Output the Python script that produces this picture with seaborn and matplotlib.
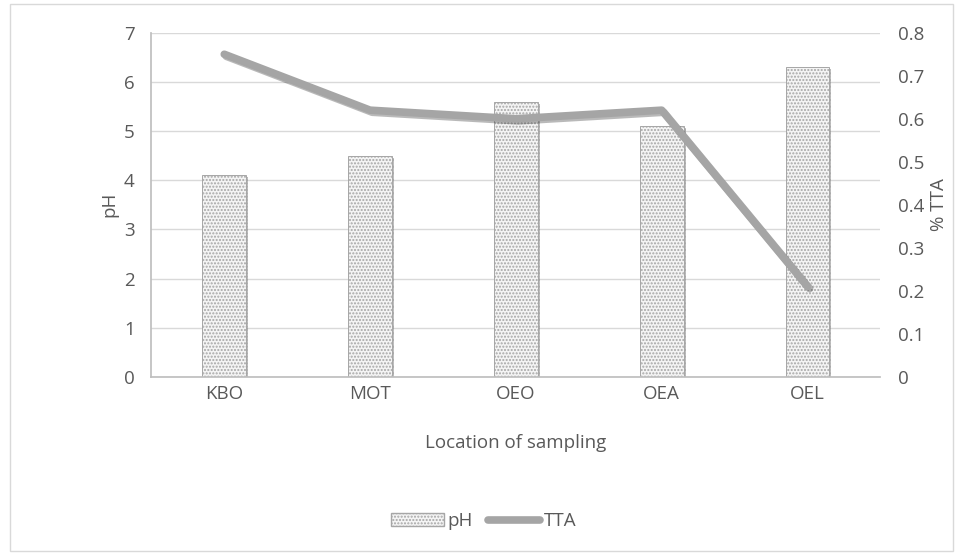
import numpy as np
import pandas as pd
import seaborn as sns
import matplotlib.pyplot as plt
import matplotlib.patheffects as pe
from matplotlib.patches import Patch
from matplotlib.lines import Line2D

locations = ['KBO', 'MOT', 'OEO', 'OEA', 'OEL']
ph = [4.1, 4.5, 5.6, 5.1, 6.3]
tta = [0.75, 0.62, 0.60, 0.62, 0.21]

df = pd.DataFrame({'location': locations, 'pH': ph, 'TTA': tta})

sns.set_theme(style='white')
plt.rcParams['font.family'] = ['Open Sans', 'DejaVu Sans']
txt = '#595959'
grid = '#d9d9d9'
fs = 13.5

fig = plt.figure(figsize=(9.58, 5.55), dpi=100)
ax = fig.add_axes([0.158, 0.321, 0.761, 0.62])

sns.barplot(data=df, x='location', y='pH', ax=ax, width=0.3,
            color='#f4f4f4', edgecolor='#a6a6a6', linewidth=0.7,
            hatch='.....', zorder=2)
for bar in ax.patches:
    bar.set_path_effects([pe.SimplePatchShadow(offset=(1.5, -1.5), alpha=0.35), pe.Normal()])

ax.set_ylim(0, 7)
ax.set_xlim(-0.5, 4.5)
ax.set_yticks(range(0, 8))
ax.yaxis.grid(True, color=grid, linewidth=1, zorder=0)
ax.set_axisbelow(True)
for s in ['top', 'right']:
    ax.spines[s].set_visible(False)
ax.spines['left'].set_color('#bfbfbf')
ax.spines['bottom'].set_color('#bfbfbf')
ax.tick_params(axis='y', length=0, labelsize=fs, colors=txt, pad=12)
ax.tick_params(axis='x', length=0, labelsize=fs, colors=txt, pad=6)
ax.set_xlabel('Location of sampling', fontsize=fs, color=txt, labelpad=22)
ax.set_ylabel('pH', fontsize=fs, color=txt, labelpad=4)

ax2 = ax.twinx()
sns.lineplot(x=np.arange(len(locations)), y=tta, ax=ax2, color='#a5a5a5',
             linewidth=5.5, solid_capstyle='round',
             path_effects=[pe.SimpleLineShadow(offset=(1.5, -1.5), alpha=0.3), pe.Normal()])
ax2.set_ylim(0, 0.8)
ax2.set_yticks(np.arange(0, 0.81, 0.1))
ax2.set_yticklabels(['0'] + [f'{v:.1f}' for v in np.arange(0.1, 0.81, 0.1)])
for s in ['top', 'right', 'left', 'bottom']:
    ax2.spines[s].set_visible(False)
ax2.tick_params(axis='y', length=0, labelsize=fs, colors=txt, pad=13)
ax2.set_ylabel('% TTA', fontsize=fs, color=txt, labelpad=4)

handles = [Patch(facecolor='#f4f4f4', edgecolor='#a6a6a6', hatch='.....', label='pH'),
           Line2D([0], [0], color='#a5a5a5', linewidth=5.5, label='TTA')]
fig.legend(handles=handles, loc='center', bbox_to_anchor=(0.505, 0.061), ncol=2,
           frameon=False, fontsize=fs, labelcolor=txt, handlelength=2.8,
           handletextpad=0.2, columnspacing=0.8)

fig.patches.append(plt.Rectangle((0.01, 0.008), 0.985, 0.985, transform=fig.transFigure,
                                 fill=False, edgecolor='#d9d9d9', linewidth=1))

fig.savefig('out.png', dpi=100)
